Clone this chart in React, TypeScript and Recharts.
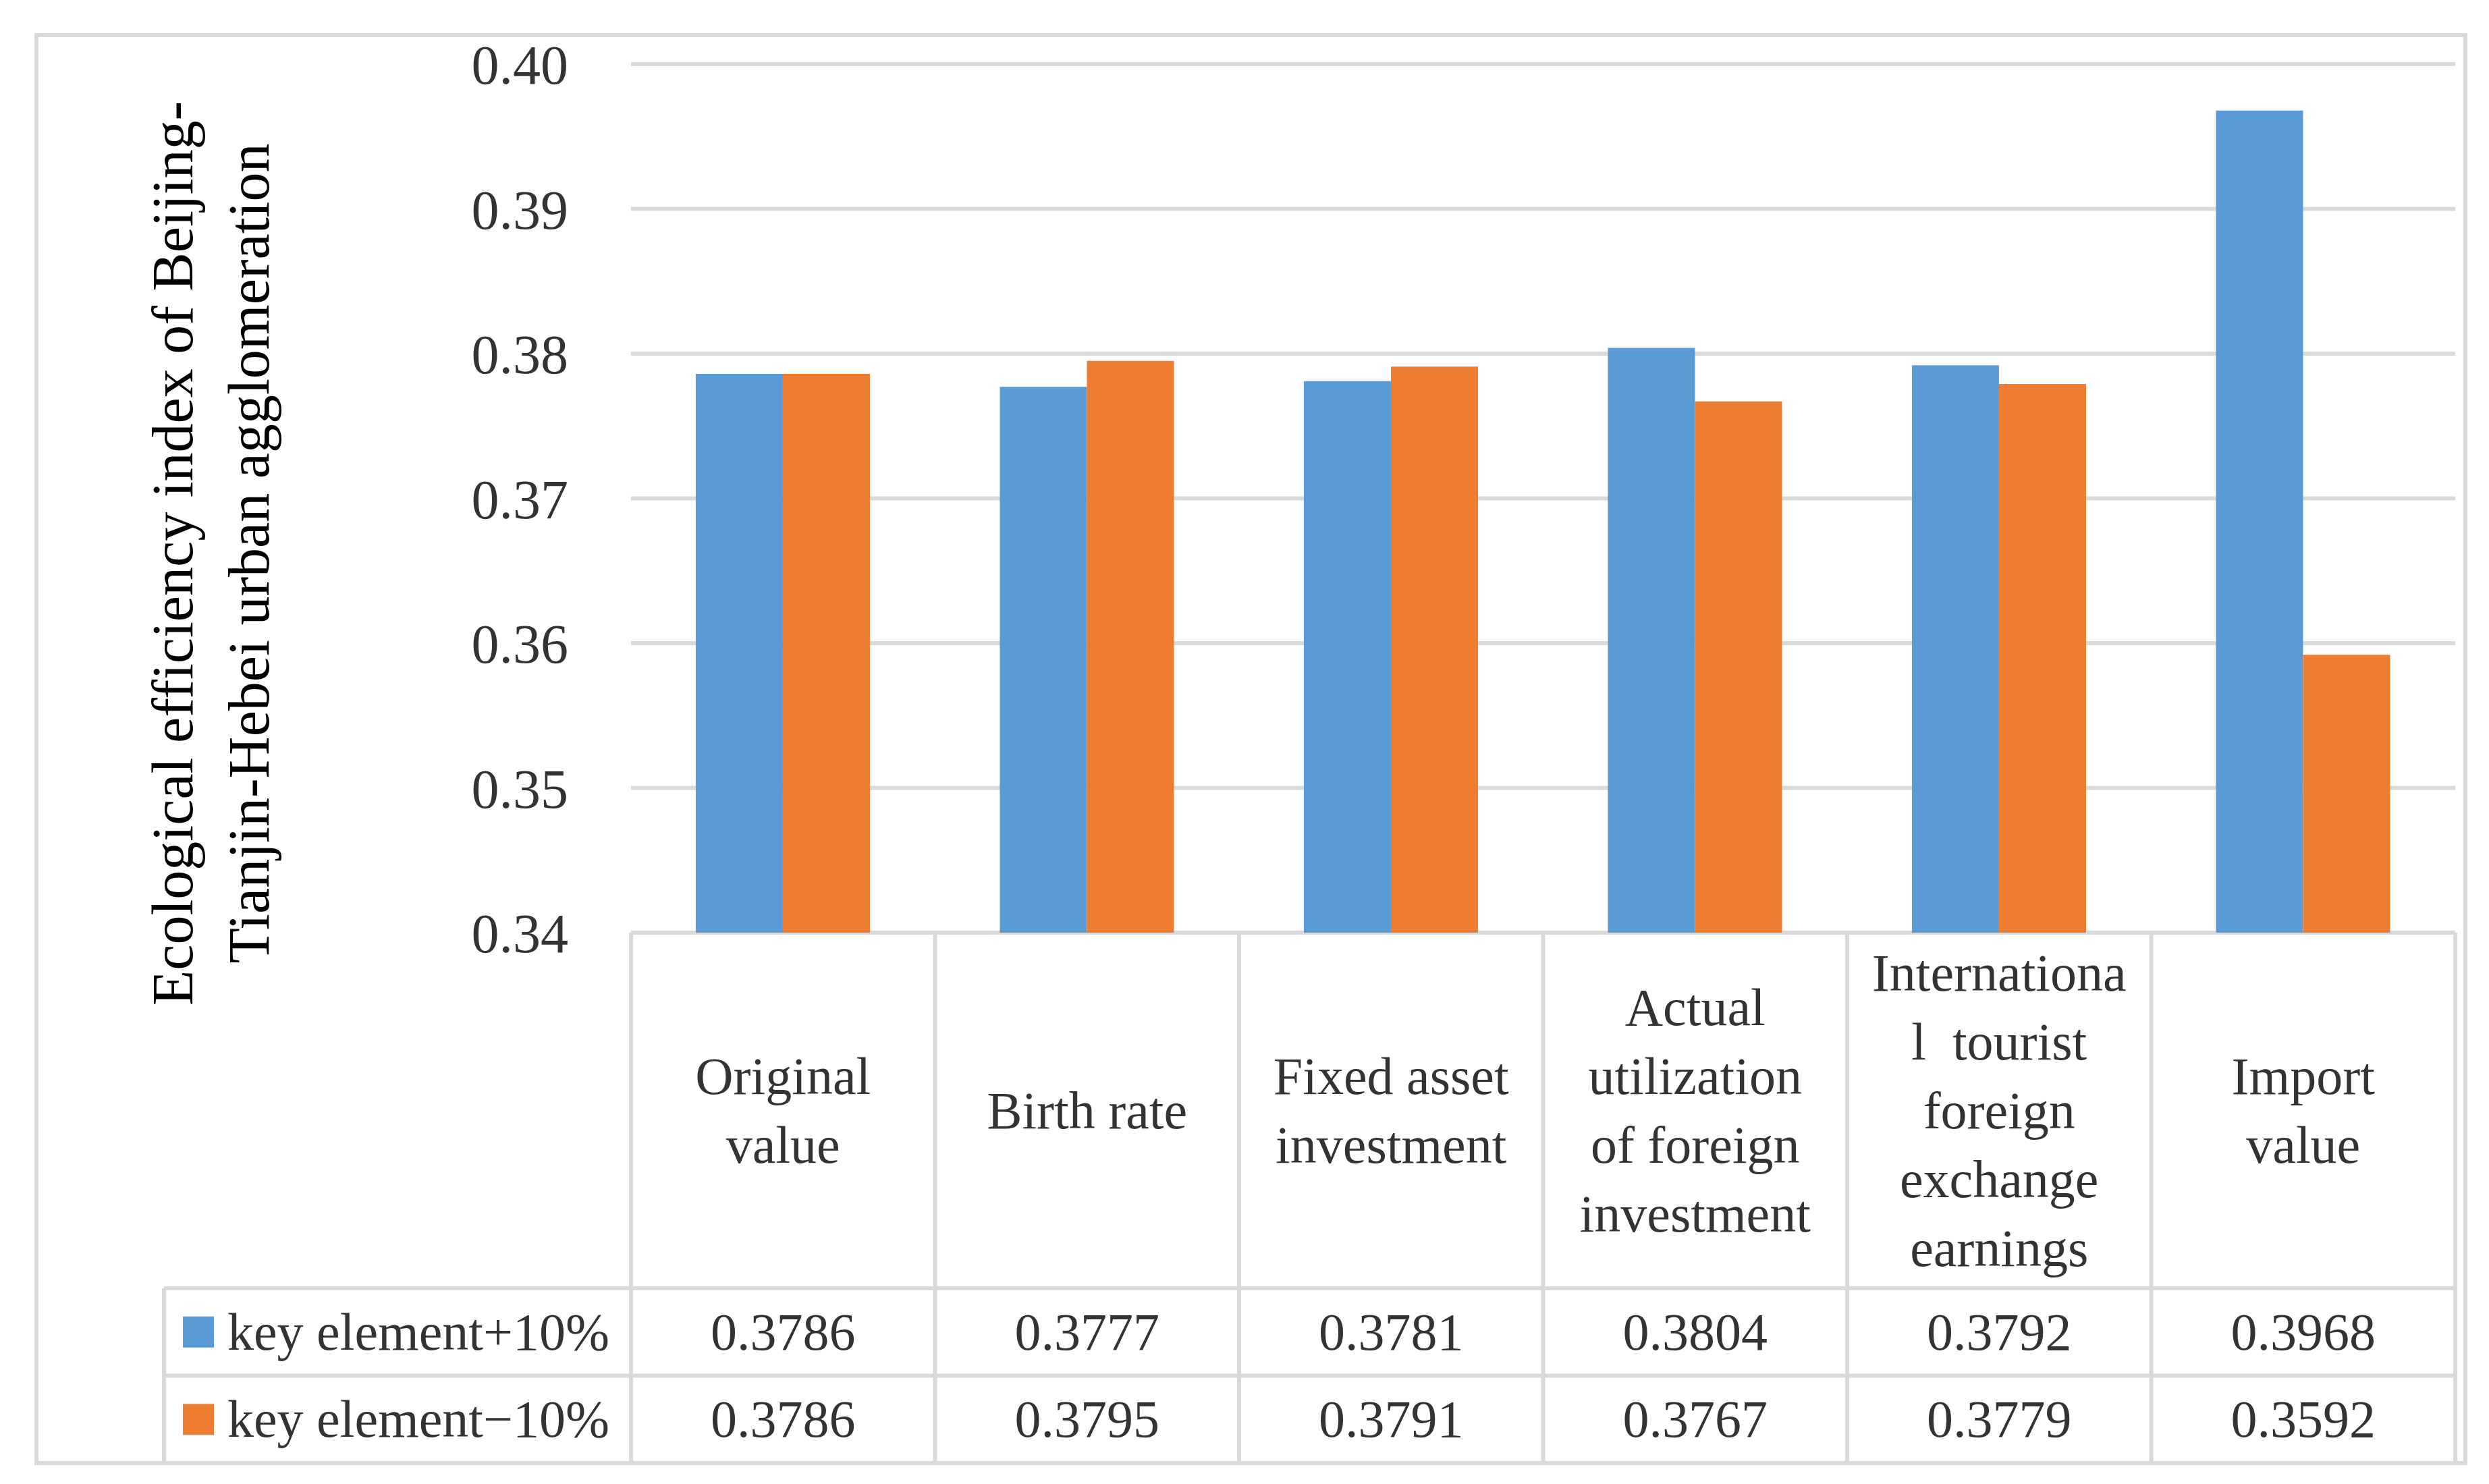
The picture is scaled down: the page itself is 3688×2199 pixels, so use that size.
import React from 'react';
import { BarChart, Bar, XAxis, YAxis, CartesianGrid, Customized } from 'recharts';

const categories = [
  'Original value',
  'Birth rate',
  'Fixed asset investment',
  'Actual utilization of foreign investment',
  'International tourist foreign exchange earnings',
  'Import value',
];
const categoryLines = [
  ['Original', 'value'],
  ['Birth rate'],
  ['Fixed asset', 'investment'],
  ['Actual', 'utilization', 'of foreign', 'investment'],
  ['Internationa', 'l\u00a0 tourist', 'foreign', 'exchange', 'earnings'],
  ['Import', 'value'],
];
const plusValues = [0.3786, 0.3777, 0.3781, 0.3804, 0.3792, 0.3968];
const minusValues = [0.3786, 0.3795, 0.3791, 0.3767, 0.3779, 0.3592];
const yTicks = [0.34, 0.35, 0.36, 0.37, 0.38, 0.39, 0.4];
const seriesNames = ['key element+10%', 'key element\u221210%'];
const seriesColors = ['#5b9bd5', '#ed7d31'];
const titleLines = ['Ecological efficiency index of Beijing-', 'Tianjin-Hebei urban agglomeration'];

const data = categories.map((name, i) => ({ name, plus: plusValues[i], minus: minusValues[i] }));

const W = 3688;
const H = 2199;
const MARGIN = { top: 95, right: 50, bottom: 31, left: 0 };
const Y_AXIS_W = 935;
const X_AXIS_H = 786;
const BAND = (W - MARGIN.left - MARGIN.right - Y_AXIS_W) / categories.length;
const LINE = '#d9d9d9';
const LW = 6;
const TEXT = '#333333';
const TABLE_FONT = '"Liberation Serif", "Times New Roman", serif';
const NAME_ROW_H = 527;
const VAL_ROW_H = 129.5;
const LEGEND_LEFT = 243;
const FS = 78;
const LH = 102;

const TableTick = (props: any) => {
  const { x, y, payload } = props;
  const i = categories.indexOf(payload.value);
  if (i < 0) return null;
  const half = BAND / 2;
  const lines = categoryLines[i];
  const nameCenter = y + NAME_ROW_H / 2;
  const firstBase = nameCenter - ((lines.length - 1) / 2) * LH + 26;
  const r1 = y + NAME_ROW_H;
  const r2 = r1 + VAL_ROW_H;
  const r3 = r2 + VAL_ROW_H;
  const vals = [plusValues[i], minusValues[i]];
  const left = x - half;
  const right = x + half;
  return (
    <g>
      {i === 0 && <line x1={left} y1={y} x2={left} y2={r3} stroke={LINE} strokeWidth={LW} />}
      <line x1={right} y1={y} x2={right} y2={r3} stroke={LINE} strokeWidth={LW} />
      {[r1, r2, r3].map((ry, k) => (
        <line key={k} x1={i === 0 ? LEGEND_LEFT : left} y1={ry} x2={right} y2={ry} stroke={LINE} strokeWidth={LW} />
      ))}
      {i === 0 && <line x1={LEGEND_LEFT} y1={r1} x2={LEGEND_LEFT} y2={r3} stroke={LINE} strokeWidth={LW} />}
      {lines.map((t, k) => (
        <text
          key={k}
          x={x}
          y={firstBase + k * LH}
          textAnchor="middle"
          fontFamily={TABLE_FONT}
          fontSize={FS}
          fill={TEXT}
          style={{ whiteSpace: 'pre' }}
        >
          {t}
        </text>
      ))}
      {vals.map((v, k) => (
        <text
          key={'v' + k}
          x={x}
          y={r1 + VAL_ROW_H * k + VAL_ROW_H / 2 + 26}
          textAnchor="middle"
          fontFamily={TABLE_FONT}
          fontSize={FS}
          fill={TEXT}
        >
          {v.toFixed(4)}
        </text>
      ))}
      {i === 0 &&
        seriesNames.map((s, k) => {
          const cy = r1 + VAL_ROW_H * k + VAL_ROW_H / 2;
          return (
            <g key={'l' + k}>
              <rect x={LEGEND_LEFT + 28} y={cy - 23} width={46} height={46} fill={seriesColors[k]} />
              <text x={LEGEND_LEFT + 94} y={cy + 26} fontFamily={TABLE_FONT} fontSize={FS} fill={TEXT}>
                {s}
              </text>
            </g>
          );
        })}
    </g>
  );
};

const AxisTitle = () => {
  const cx = 285;
  const cy = 820;
  return (
    <text
      transform={`rotate(-90, ${cx}, ${cy})`}
      x={cx}
      y={cy}
      textAnchor="middle"
      fontFamily={TABLE_FONT}
      fontSize={86}
      fill="#000000"
    >
      <tspan x={cx} y={cy}>{titleLines[0]}</tspan>
      <tspan x={cx} y={cy + 113}>{titleLines[1]}</tspan>
    </text>
  );
};

export default function App() {
  return (
    <div style={{ position: 'absolute', left: 0, top: 0, width: W, height: H, background: '#ffffff' }}>
      <div
        style={{
          position: 'absolute',
          left: 54 - LW / 2,
          top: 52 - LW / 2,
          width: 3653 - 54 - LW,
          height: 2168 - 52 - LW,
          border: `${LW}px solid ${LINE}`,
          pointerEvents: 'none',
        }}
      />
      <BarChart
        width={W}
        height={H}
        data={data}
        margin={MARGIN}
        barCategoryGap="21.3%"
        barGap={0}
        style={{ position: 'absolute', left: 0, top: 0 }}
      >
        <CartesianGrid vertical={false} stroke={LINE} strokeWidth={LW} />
        <YAxis
          width={Y_AXIS_W}
          domain={[0.34, 0.4]}
          ticks={yTicks}
          type="number"
          allowDataOverflow
          axisLine={false}
          tickLine={false}
          tickSize={0}
          tickMargin={93}
          tickFormatter={(v: number) => v.toFixed(2)}
          tick={{ fontSize: 82, fontFamily: TABLE_FONT, fill: TEXT }}
        />
        <XAxis
          dataKey="name"
          height={X_AXIS_H}
          axisLine={false}
          tickLine={false}
          tickSize={0}
          tickMargin={0}
          interval={0}
          tick={<TableTick />}
        />
        <Bar dataKey="plus" name={seriesNames[0]} fill={seriesColors[0]} isAnimationActive={false} />
        <Bar dataKey="minus" name={seriesNames[1]} fill={seriesColors[1]} isAnimationActive={false} />
        <Customized component={AxisTitle} />
      </BarChart>
    </div>
  );
}
